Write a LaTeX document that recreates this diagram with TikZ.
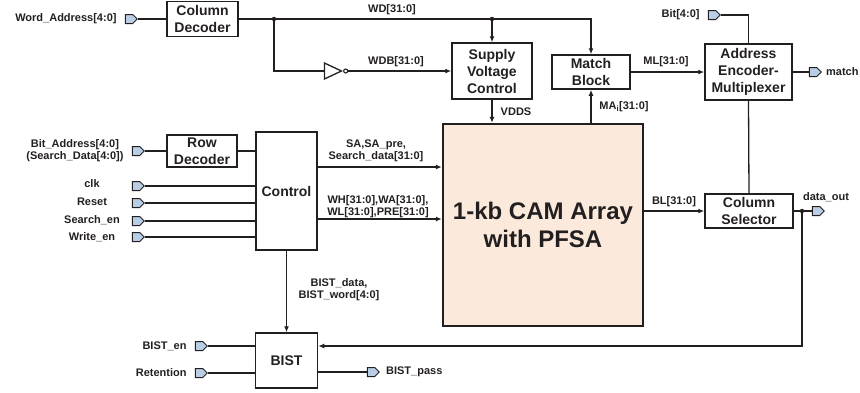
\documentclass[tikz,border=0pt]{standalone}
\usepackage{fontspec}
\setmainfont{Liberation Sans}
\usepackage{xcolor}
\usepackage{tikz}
\usetikzlibrary{arrows.meta,positioning,shapes.geometric,shapes.symbols}
\definecolor{pessego}{HTML}{FBEADC}
\definecolor{azulporta}{HTML}{B9CDE5}
\definecolor{tinta}{HTML}{231F20}
\tikzset{
    bloco/.style={
        rectangle,
        draw=tinta,
        line width=1.5pt,
        align=center,
        inner sep=0pt,
        text=tinta,
        font=\fontsize{14}{17}\selectfont\bfseries
    },
    porta/.style={
        signal,
        signal to=east,
        draw=tinta,
        line width=1pt,
        fill=azulporta,
        minimum width=12pt,
        minimum height=9pt,
        inner sep=0pt
    },
    rotulo/.style={align=center, inner sep=1pt, text=tinta,
        font=\fontsize{11}{12}\selectfont\bfseries},
    fio/.style={draw=tinta, line width=1.3pt},
    fluxo/.style={fio, -{Latex[length=6pt,width=5pt]}},
    juncao/.style={circle, fill=tinta, inner sep=0pt, minimum size=4.5pt},
    inversor/.style={isosceles triangle, isosceles triangle stretches, draw=tinta,
        line width=1.3pt, inner sep=0pt, minimum height=17pt, minimum width=16pt}
}

\begin{document}
\begin{tikzpicture}[x=1pt, y=-1pt]
        \useasboundingbox (0,0) rectangle (860,392);
        % blocos
        \node[bloco, minimum width=71pt, minimum height=35pt] (coldec) at (202.5,19) {Column\\Decoder};
        \node[bloco, minimum width=70pt, minimum height=32pt] (rowdec) at (202,151) {Row\\Decoder};
        \node[bloco, minimum width=61pt, minimum height=118pt] (control) at (286.5,191) {Control};
        \node[bloco, minimum width=80pt, minimum height=56pt] (supply) at (492,71) {Supply\\Voltage\\Control};
        \node[bloco, minimum width=78pt, minimum height=34pt] (match) at (591,72) {Match\\Block};
        \node[bloco, minimum width=87pt, minimum height=56pt] (addrenc) at (748.5,72) {Address\\Encoder-\\Multiplexer};
        \node[bloco, minimum width=88pt, minimum height=34pt] (colsel) at (749,211) {Column\\Selector};
        \node[bloco, fill=pessego, line width=2.4pt, minimum width=200pt, minimum height=202pt,
            font=\fontsize{24}{28}\selectfont\bfseries] (cam) at (543,225) {1-kb CAM Array\\with PFSA};
        \node[bloco, minimum width=62pt, minimum height=55pt] (bist) at (286.5,360.5) {BIST};
        % portas
        \node[porta] (pword) at (129,19) {};
        \node[porta] (pbitaddr) at (136,151) {};
        \node[porta] (pclk) at (136,186) {};
        \node[porta] (preset) at (136,203) {};
        \node[porta] (psearch) at (136,221) {};
        \node[porta] (pwrite) at (136,237) {};
        \node[porta] (pbisten) at (199,346) {};
        \node[porta] (pretention) at (199,373) {};
        \node[porta] (pbistpass) at (371,372) {};
        \node[porta] (pbit) at (712,15) {};
        \node[porta] (pmatch) at (813,72) {};
        \node[porta] (pdataout) at (816,211) {};
        \node[rotulo, left=7pt of pword] (lword) {Word\_Address[4:0]};
        \node[rotulo, left=7pt of pbitaddr] (lbitaddr) {Bit\_Address[4:0]\\(Search\_Data[4:0])};
        \node[rotulo] (lclk) at (92,184) {clk};
        \node[rotulo] (lreset) at (92,202) {Reset};
        \node[rotulo] (lsearch) at (92,220) {Search\_en};
        \node[rotulo] (lwrite) at (92,237) {Write\_en};
        \node[rotulo, left=7pt of pbisten] (lbisten) {BIST\_en};
        \node[rotulo, left=7pt of pretention] (lretention) {Retention};
        \node[rotulo, right=5pt of pbistpass] (lbistpass) {BIST\_pass};
        \node[rotulo, left=7pt of pbit] (lbit) {Bit[4:0]};
        \node[rotulo, right=3pt of pmatch] (lmatch) {match};
        \node[rotulo] (ldataout) at (826,197) {data\_out};
        % sinais
        \node[juncao] (j1) at (274,19) {};
        \node[juncao] (j2) at (492,19) {};
        \node[juncao] (j3) at (802,211) {};
        \node[inversor] (inv) at (329.5,71) {};
        \node[circle, draw=tinta, line width=1.1pt, inner sep=0pt, minimum size=4pt, anchor=west] (bolha) at (inv.apex) {};
        \node[rotulo] (lwd) at (392,10) {WD[31:0]};
        \node[rotulo] (lwdb) at (396,62) {WDB[31:0]};
        \node[rotulo] (lvdds) at (516,112) {VDDS};
        \node[rotulo] (lma) at (624,107) {MA\textsubscript{i}[31:0]};
        \node[rotulo] (lml) at (666,62) {ML[31:0]};
        \node[rotulo] (lsa) at (376,151) {SA,SA\_pre,\\Search\_data[31:0]};
        \node[rotulo] (lwh) at (378,207) {WH[31:0],WA[31:0],\\WL[31:0],PRE[31:0]};
        \node[rotulo] (lbl) at (674,202) {BL[31:0]};
        \node[rotulo] (lbistdata) at (339,290) {BIST\_data,\\BIST\_word[4:0]};
        \coordinate (retorno) at (bist.east |- pbisten);
        % conexoes
        \draw[fio] (pword.east) -- (coldec.west);
        \draw[fio] (coldec.east) -- (j1) -- (j2);
        \draw[fluxo] (j2) -| (match.north);
        \draw[fluxo] (j2) -- (supply.north);
        \draw[fio] (j1) |- (inv.west);
        \draw[fluxo] (bolha.east) -- (bolha.east -| supply.west);
        \draw[fluxo] (supply.south) -- (supply.south |- cam.north);
        \draw[fluxo] (cam.north -| match) -- (match.south);
        \draw[fluxo] (match.east) -- (addrenc.west);
        \draw[fio] (pbit.east) -| (addrenc.north);
        \draw[fio] (addrenc.east) -- (pmatch.west);
        \draw[fio] (addrenc.south) -- (colsel.north);
        \draw[fluxo] (cam.east |- colsel) -- (colsel.west);
        \draw[fio] (colsel.east) -- (j3) -- (pdataout.west);
        \draw[fluxo] (j3) |- (retorno);
        \draw[fio] (pbitaddr.east) -- (rowdec.west);
        \draw[fio] (rowdec.east) -- (rowdec.east -| control.west);
        \foreach \p in {pclk,preset,psearch,pwrite}
            \draw[fio] (\p.east) -- (\p.east -| control.west);
        \draw[fluxo] ([yshift=24pt]control.east) -- ([yshift=24pt]control.east -| cam.west);
        \draw[fluxo] ([yshift=-28pt]control.east) -- ([yshift=-28pt]control.east -| cam.west);
        \draw[fluxo] (control.south) -- (bist.north);
        \draw[fio] (pbisten.east) -- (pbisten.east -| bist.west);
        \draw[fio] (pretention.east) -- (pretention.east -| bist.west);
        \draw[fio] (bist.east |- pbistpass) -- (pbistpass.west);
    \end{tikzpicture}
\end{document}
